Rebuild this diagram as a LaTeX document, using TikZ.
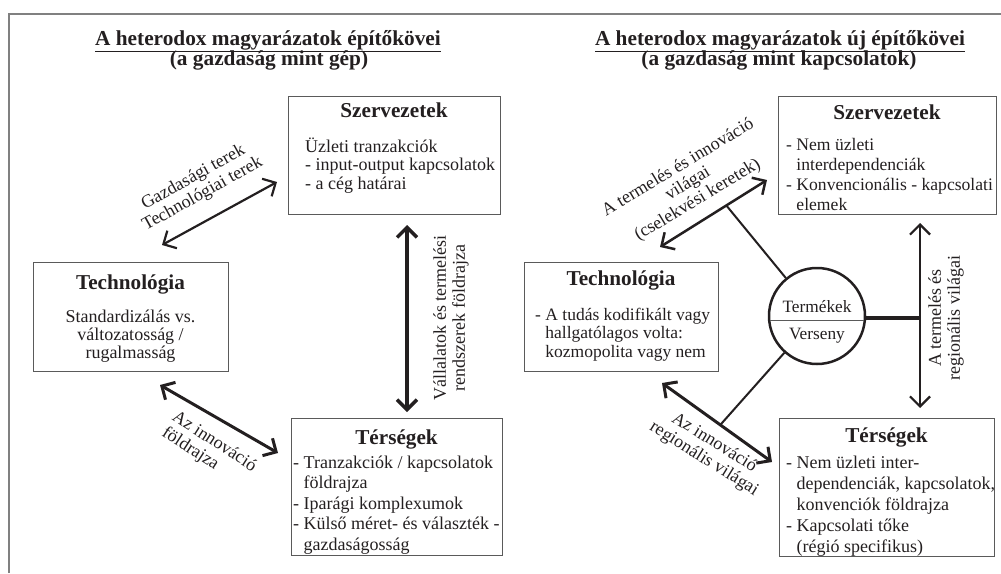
\documentclass[tikz,border=0pt]{standalone}
\usepackage{fontspec}
\setmainfont{Liberation Serif}
\usetikzlibrary{arrows.meta,calc}
\definecolor{ink}{RGB}{35,31,32}
\definecolor{frame}{RGB}{128,128,128}
\definecolor{boxline}{RGB}{90,90,90}
\begin{document}
\begin{tikzpicture}[x=1pt,y=-1pt,
  box/.style={draw=boxline, line width=0.9pt, inner sep=0pt},
  head/.style={font=\fontsize{21.2}{24}\selectfont\bfseries, text=ink, inner sep=0pt, anchor=base},
  title/.style={font=\fontsize{21.3}{24}\selectfont\bfseries, text=ink, inner sep=0pt, anchor=base},
  body/.style={font=\fontsize{18}{#1}\selectfont, text=ink, inner sep=0pt, align=left, anchor=north west},
  cbody/.style={font=\fontsize{18}{#1}\selectfont, text=ink, inner sep=0pt, align=center, anchor=north},
  lab/.style={font=\fontsize{18}{19}\selectfont, text=ink, inner sep=0pt, align=center},
  dbl/.style={draw=ink, {Straight Barb[length=10pt,width=20pt]}-{Straight Barb[length=10pt,width=20pt]}},
  link/.style={draw=ink}
]
\useasboundingbox (0,0) rectangle (1001,573);
% outer frame (cut off at right and bottom)
\draw[frame, line width=1.4pt] (9,573) -- (9,14) -- (1001,14);

% ---------------- titles ----------------
\node[title] (t1) at (268,45) {\underline{A heterodox magyarázatok építőkövei}};
\node[title] (t1b) at (269,65) {(a gazdaság mint gép)};
\node[title] (t2) at (780,45) {\underline{A heterodox magyarázatok új építőkövei}};
\node[title] (t2b) at (779,65) {(a gazdaság mint kapcsolatok)};

% ---------------- left panel ----------------
\node[box, minimum width=212pt, minimum height=118pt] (szL) at (394,155) {};
\node[head] (szLh) at (394,117) {Szervezetek};
\node[body=18.5] (szLb) at (305,136) {\rule{0pt}{16pt}Üzleti tranzakciók\\- input-output kapcsolatok\\- a cég határai};

\node[box, minimum width=195pt, minimum height=109pt] (teL) at (130.5,316.5) {};
\node[head] (teLh) at (130.5,289) {Technológia};
\node[cbody=18] (teLb) at (130.5,306) {\rule{0pt}{16pt}Standardizálás vs.\\változatosság /\\rugalmasság};

\node[box, minimum width=211pt, minimum height=137pt] (trL) at (396.5,486.5) {};
\node[head] (trLh) at (396.5,444) {Térségek};
\node[body=20.5] (trLb) at (293,452) {\rule{0pt}{16pt}- Tranzakciók / kapcsolatok\\\phantom{- }földrajza\\- Iparági komplexumok\\- Külső méret- és választék -\\\phantom{- }gazdaságosság};

\coordinate (a1s) at (162,245); \coordinate (a1e) at (277,182);
\coordinate (a2s) at (407,225); \coordinate (a2e) at (407,412);
\coordinate (a3s) at (160,385); \coordinate (a3e) at (278,453);
\draw[dbl, line width=2.2pt] (a1s) -- (a1e);
\draw[dbl, line width=3.5pt] (a2s) -- (a2e);
\draw[dbl, line width=3pt] (a3s) -- (a3e);

\node[lab, rotate=29] (l1) at (198,186) {Gazdasági terek\\Technológiai terek};
\node[lab, rotate=90] (l2) at (451,318) {Vállalatok és termelési\\rendszerek földrajza};
\node[lab, rotate=-33, align=left] (l3) at (209,450) {Az innováció\\földrajza};

% ---------------- right panel ----------------
\node[box, minimum width=218pt, minimum height=118pt] (szR) at (887,155) {};
\node[head] (szRh) at (887,119) {Szervezetek};
\node[body=20, font=\fontsize{17.6}{20}\selectfont] (szRb) at (786,134) {\rule{0pt}{16pt}- Nem  üzleti\\\phantom{- }interdependenciák\\- Konvencionális - kapcsolati\\\phantom{- }elemek};

\node[box, minimum width=194pt, minimum height=109pt] (teR) at (621,316.5) {};
\node[head] (teRh) at (621,285) {Technológia};
\node[body=18.5, font=\fontsize{17.5}{18.5}\selectfont] (teRb) at (535,304) {\rule{0pt}{16pt}- A tudás kodifikált vagy\\\phantom{- }hallgatólagos volta:\\\phantom{- }kozmopolita vagy nem};

\node[box, minimum width=215pt, minimum height=138pt] (trR) at (886.5,487) {};
\node[head] (trRh) at (886.5,442) {Térségek};
\node[body=21] (trRb) at (786,452) {\rule{0pt}{16pt}- Nem üzleti inter-\\\phantom{- }dependenciák, kapcsolatok,\\\phantom{- }konvenciók földrajza\\- Kapcsolati tőke\\\phantom{- }(régió specifikus)};

% central circle
\node[circle, draw=ink, line width=2.5pt, minimum size=96pt, inner sep=0pt] (prod) at (817,316) {};
\draw[boxline, line width=0.8pt] ($(prod.center)+(-47,4)$) -- ($(prod.center)+(47,4)$);
\node[font=\fontsize{17.3}{19}\selectfont, text=ink, inner sep=0pt, anchor=base] (prodA) at (817,312) {Termékek};
\node[font=\fontsize{17.3}{19}\selectfont, text=ink, inner sep=0pt, anchor=base] (prodB) at (817,339) {Verseny};

\coordinate (b1s) at (660,247); \coordinate (b1e) at (767,180);
\coordinate (b2s) at (920,223); \coordinate (b2e) at (920,408);
\coordinate (b3s) at (662,383); \coordinate (b3e) at (772,462);
\draw[dbl, line width=2.5pt] (b1s) -- (b1e);
\draw[dbl, line width=2.2pt] (b2s) -- (b2e);
\draw[dbl, line width=3pt] (b3s) -- (b3e);

\coordinate (j1) at ($(b1s)!0.62!(b1e)$);
\coordinate (j2) at ($(b3s)!0.53!(b3e)$);
\coordinate (j3) at (920,318);
\draw[link, line width=2pt] (prod) -- (j1);
\draw[link, line width=2pt] (prod) -- (j2);
\draw[link, line width=3.5pt] (prod.east |- j3) -- (j3);

\node[lab, rotate=31] (l4) at (688,184) {A termelés és innováció\\világai\\(cselekvési keretek)};
\node[lab, rotate=90] (l5) at (946,318) {A termelés és\\regionális világai};
\node[lab, rotate=-32] (l6) at (709,451) {Az innováció\\regionális világai};
\end{tikzpicture}
\end{document}
